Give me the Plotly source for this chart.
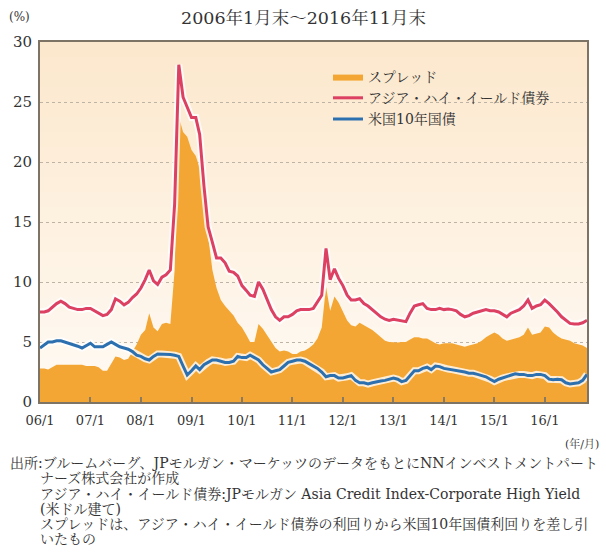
import pandas as pd
import plotly.graph_objects as go

# Monthly data, Jan 2006 .. Nov 2016 (131 months)
months = pd.date_range("2006-01-01", "2016-11-01", freq="MS")

asia_hy = [
    7.5, 7.5, 7.6, 7.9, 8.2, 8.4, 8.2, 7.9, 7.8, 7.7, 7.7, 7.8,
    7.8, 7.6, 7.4, 7.2, 7.3, 7.7, 8.6, 8.4, 8.1, 8.3, 8.7, 9.0,
    9.5, 10.2, 11.0, 10.1, 9.8, 10.4, 10.6, 11.0, 16.5, 28.1, 25.4, 24.6,
    23.7, 23.7, 22.3, 18.0, 14.6, 13.3, 12.0, 12.0, 11.6, 10.9, 10.8, 10.5,
    9.7, 9.3, 8.9, 8.8, 10.0, 9.4, 8.6, 7.7, 7.1, 6.8, 7.1, 7.1,
    7.3, 7.6, 7.7, 7.7, 7.7, 7.8, 8.3, 8.9, 12.8, 10.2, 11.1, 10.3,
    9.7, 8.9, 8.5, 8.5, 8.6, 8.2, 8.0, 7.7, 7.4, 7.1, 6.9, 6.8,
    6.9, 6.85, 6.8, 6.7, 7.4, 8.0, 8.1, 8.2, 7.8, 7.7, 7.7, 7.8,
    7.7, 7.75, 7.7, 7.6, 7.3, 7.1, 7.2, 7.4, 7.5, 7.6, 7.7, 7.6,
    7.6, 7.5, 7.3, 7.1, 7.4, 7.55, 7.7, 8.0, 8.5, 7.8, 8.0, 8.1,
    8.5, 8.2, 7.9, 7.5, 7.1, 6.8, 6.55, 6.5, 6.5, 6.6, 6.8,
]

us10y = [
    4.5, 4.8, 5.0, 5.0, 5.1, 5.1, 5.0, 4.85, 4.75, 4.65, 4.5, 4.7,
    4.9, 4.6, 4.6, 4.6, 4.8, 5.0, 4.8, 4.6, 4.5, 4.4, 4.2, 3.9,
    3.8, 3.6, 3.5, 3.8, 4.0, 4.0, 4.0, 3.95, 3.9, 3.8, 3.0, 2.25,
    2.6, 3.0, 2.7, 3.1, 3.3, 3.5, 3.5, 3.4, 3.3, 3.3, 3.4, 3.8,
    3.7, 3.7, 3.9, 3.7, 3.5, 3.1, 2.8, 2.5, 2.6, 2.7, 3.0, 3.3,
    3.4, 3.5, 3.5, 3.4, 3.2, 3.0, 2.8, 2.5, 2.1, 2.2, 2.2, 2.0,
    2.0, 2.1, 2.2, 1.8, 1.6, 1.6, 1.5, 1.6, 1.7, 1.75, 1.8, 1.9,
    2.0, 1.9, 1.7, 1.8, 2.2, 2.6, 2.6, 2.8, 2.9, 2.7, 3.0, 2.95,
    2.8, 2.75, 2.7, 2.6, 2.6, 2.5, 2.4, 2.4, 2.3, 2.2, 2.1, 1.9,
    1.7, 1.9, 2.0, 2.1, 2.2, 2.35, 2.3, 2.3, 2.2, 2.2, 2.3, 2.3,
    2.2, 1.9, 1.85, 1.9, 1.85, 1.6, 1.5, 1.55, 1.6, 1.8, 2.3,
]

spread = [
    2.8, 2.8, 2.7, 2.9, 3.1, 3.1, 3.1, 3.1, 3.1, 3.1, 3.1, 3.0,
    3.0, 3.0, 2.9, 2.6, 2.6, 3.2, 3.8, 3.7, 3.5, 3.6, 4.2, 4.8,
    5.6, 6.0, 7.4, 6.2, 5.9, 6.5, 6.6, 6.5, 11.0, 23.8, 22.5, 22.1,
    21.0, 20.5, 19.5, 16.5, 13.5, 11.0, 9.5, 8.5, 8.0, 7.6, 7.2, 6.6,
    6.2, 5.6, 5.0, 5.0, 6.5, 6.1, 5.6, 5.0, 4.5, 4.2, 4.3, 4.2,
    4.0, 4.0, 4.2, 4.3, 4.5, 4.8, 5.3, 6.2, 9.6, 7.6, 8.8, 8.3,
    7.5, 6.8, 6.4, 6.3, 6.6, 6.4, 6.2, 6.0, 5.7, 5.4, 5.1, 5.0,
    4.95, 4.95, 5.0, 5.0, 5.2, 5.4, 5.4, 5.3, 5.3, 5.1, 4.9, 4.8,
    4.9, 4.9, 4.9, 4.8, 4.7, 4.6, 4.7, 4.8, 4.9, 5.1, 5.4, 5.6,
    5.8, 5.6, 5.3, 5.1, 5.2, 5.3, 5.4, 5.6, 6.2, 5.6, 5.7, 5.8,
    6.3, 6.2, 5.8, 5.5, 5.3, 5.2, 5.1, 4.9, 4.8, 4.7, 4.5,
]

tick_dates = [f"{y}-01-01" for y in range(2006, 2017)]
tick_labels = ["06/1", "07/1", "08/1", "09/1", "10/1", "11/1",
               "12/1", "13/1", "14/1", "15/1", "16/1"]

title_text = "2006年1月末～2016年11月末"
unit_y = "(%)"
unit_x = "(年/月)"
notes = [
    "出所:ブルームバーグ、JPモルガン・マーケッツのデータをもとにNNインベストメントパート",
    "ナーズ株式会社が作成",
    "アジア・ハイ・イールド債券:JPモルガン Asia Credit Index-Corporate High Yield",
    "(米ドル建て)",
    "スプレッドは、アジア・ハイ・イールド債券の利回りから米国10年国債利回りを差し引",
    "いたもの",
]

FONT = "'DejaVu Serif', 'Noto Serif CJK JP', 'Noto Sans CJK JP', serif"
RED = "#dc4062"
BLUE = "#2d70b0"
ORANGE = "#f3a633"

fig = go.Figure()
fig.add_trace(go.Scatter(x=months, y=spread, name="スプレッド", mode="lines",
                         fill="tozeroy", fillcolor=ORANGE,
                         line=dict(width=0, color=ORANGE)))
fig.add_trace(go.Scatter(x=months, y=asia_hy, mode="lines", showlegend=False,
                         hoverinfo="skip", line=dict(width=7, color="rgba(255,255,255,0.8)")))
fig.add_trace(go.Scatter(x=months, y=asia_hy, name="アジア・ハイ・イールド債券", mode="lines",
                         line=dict(width=3, color=RED)))
fig.add_trace(go.Scatter(x=months, y=us10y, mode="lines", showlegend=False,
                         hoverinfo="skip", line=dict(width=7, color="rgba(255,255,255,0.8)")))
fig.add_trace(go.Scatter(x=months, y=us10y, name="米国10年国債", mode="lines",
                         line=dict(width=3, color=BLUE)))

# background gradient (peach at top -> near white at bottom)
shapes = []
n = 24
top = (252, 232, 205)
bot = (255, 250, 244)
for i in range(n):
    t = i / (n - 1)
    c = tuple(round(top[k] + (bot[k] - top[k]) * t) for k in range(3))
    shapes.append(dict(type="rect", xref="paper", yref="paper",
                       x0=0, x1=1, y0=1 - (i + 1) / n, y1=1 - i / n,
                       fillcolor=f"rgb{c}", line=dict(width=0), layer="below"))

W, H = 606, 558
L, R, T, B = 40, 19, 42, 156
pw, ph = W - L - R, H - T - B


def px(x):
    return (x - L) / pw


def py(y):
    return (H - B - y) / ph


ann = []
ann.append(dict(text=title_text, x=px(303), y=py(18), xanchor="center", yanchor="middle",
                font=dict(size=17.5, color="#333")))
ann.append(dict(text=unit_y, x=px(7), y=py(17), xanchor="left", yanchor="middle",
                font=dict(size=12, color="#333")))
ann.append(dict(text=unit_x, x=px(601), y=py(444), xanchor="right", yanchor="middle",
                font=dict(size=11, color="#333")))
note_x = [8, 38, 38, 38, 38, 38]
note_y = [463, 478, 494, 509, 524, 539]
for t, xx, yy in zip(notes, note_x, note_y):
    ann.append(dict(text=t, x=px(xx), y=py(yy), xanchor="left", yanchor="middle",
                    font=dict(size=14, color="#333")))
for a in ann:
    a.update(xref="paper", yref="paper", showarrow=False)

fig.update_layout(
    width=W, height=H,
    margin=dict(l=L, r=R, t=T, b=B),
    paper_bgcolor="white",
    plot_bgcolor="#fdf1e2",
    font=dict(family=FONT, size=15, color="#333"),
    shapes=shapes,
    annotations=ann,
    showlegend=True,
    legend=dict(x=px(328), y=py(61), xanchor="left", yanchor="top",
                bgcolor="rgba(0,0,0,0)", font=dict(size=14, color="#333"),
                itemwidth=30, tracegroupgap=0),
)
fig.update_xaxes(range=["2006-01-01", "2016-11-01"], tickvals=tick_dates, ticktext=tick_labels,
                 ticks="inside", ticklen=5, tickcolor="#8a7a60", tickwidth=1.5,
                 ticklabelstandoff=5,
                 showgrid=False, showline=True, linecolor="#7d7466", linewidth=2, mirror=True,
                 tickfont=dict(size=13, color="#333"), zeroline=False)
fig.update_yaxes(range=[0, 30], dtick=5, showgrid=True, gridcolor="#bdb4a6", griddash="dot",
                 gridwidth=1, showline=True, linecolor="#7d7466", linewidth=2, mirror=True,
                 ticks="", ticklabelstandoff=3,
                 tickfont=dict(size=15, color="#333"), zeroline=False)

fig.write_html("out.html", config={"displayModeBar": False},
               post_script="document.body.style.margin='0';document.body.style.overflow='hidden';")
